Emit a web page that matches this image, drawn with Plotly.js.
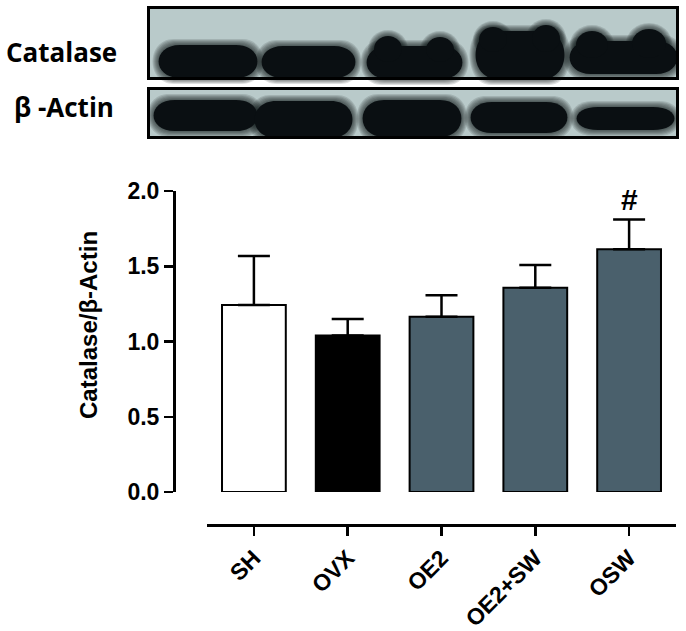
<!DOCTYPE html>
<html>
<head>
<meta charset="utf-8">
<script src="https://cdn.plot.ly/plotly-3.0.1.min.js"></script>
<style>html,body{margin:0;padding:0;background:#fff;}#chart{width:686px;height:631px;}</style>
</head>
<body>
<div id="chart"></div>
<script>
// ---- data ----
const categories = ['SH', 'OVX', 'OE2', 'OE2+SW', 'OSW'];
const means = [1.243, 1.040, 1.165, 1.357, 1.613];
const sem = [0.325, 0.110, 0.142, 0.151, 0.197];
const barColors = ['#ffffff', '#000000', '#4a606c', '#4a606c', '#4a606c'];
const sigMarks = ['', '', '', '', '#'];
const yTicks = [0, 0.5, 1.0, 1.5, 2.0];
const blotLabels = ['Catalase', 'β -Actin'];

// ---- geometry helpers (figure pixels -> paper) ----
const W = 686, H = 631, L = 140, R = 6, T = 5, B = 106;
const PW = W - L - R, PH = H - T - B;
const px = v => (v - L) / PW;
const py = v => (H - B - v) / PH;

// Blot drawing (decorative reproduction of the western blot image), in blot-axis pixel units
const blotBoxes = [[147, 679, 6, 80], [147, 679, 87, 139]];
const capsules = [
  [158, 258, 45, 78], [261, 356, 46, 78], [366, 463, 46, 79], [475, 565, 31, 79], [569, 678, 41, 74],
  [153, 258, 100, 131], [254, 353, 101, 138], [362, 462, 100, 137], [470, 568, 102, 133], [576, 675, 107, 130]
];
const humps = [
  [374, 402, 36, 62], [426, 454, 37, 62],
  [479, 507, 27, 52], [532, 560, 25, 52],
  [576, 608, 31, 58], [632, 666, 29, 58]
];

function capsulePath(x0, x1, y0, y1) {
  const rx = Math.min(22, (x1 - x0) / 4);
  return `M ${x0 + rx},${y0} L ${x1 - rx},${y0} C ${x1 + rx * 0.3},${y0} ${x1 + rx * 0.3},${y1} ${x1 - rx},${y1} ` +
         `L ${x0 + rx},${y1} C ${x0 - rx * 0.3},${y1} ${x0 - rx * 0.3},${y0} ${x0 + rx},${y0} Z`;
}

const shapes = [];
blotBoxes.forEach(b => shapes.push({type: 'rect', xref: 'x2', yref: 'y2', x0: b[0], x1: b[1], y0: b[2], y1: b[3],
  fillcolor: '#b9caca', line: {width: 0}, layer: 'below'}));
// soft halo layers then solid cores
[6, 5, 4, 3, 2, 1, 0].forEach(g => {
  const op = g === 0 ? 1 : 0.13;
  capsules.forEach(c => shapes.push({type: 'path', xref: 'x2', yref: 'y2',
    path: capsulePath(c[0] - g, c[1] + g, c[2] - g, c[3] + g), fillcolor: `rgba(10,15,18,${op})`, line: {width: 0}}));
  humps.forEach(h => shapes.push({type: 'circle', xref: 'x2', yref: 'y2', x0: h[0] - g, x1: h[1] + g, y0: h[2] - g, y1: h[3] + g,
    fillcolor: `rgba(10,15,18,${op})`, line: {width: 0}}));
});
blotBoxes.forEach(b => shapes.push({type: 'rect', xref: 'x2', yref: 'y2', x0: b[0] + 1.5, x1: b[1] - 1.5, y0: b[2] + 1.5, y1: b[3] - 1.5,
  fillcolor: 'rgba(0,0,0,0)', line: {width: 3, color: '#000'}}));

const FONT = 'Arial';
const LABELFONT = '"Open Sans"';

const traces = [
  {
    type: 'bar', x: categories, y: means, width: 0.68,
    marker: {color: barColors, line: {color: '#000', width: 2}},
    error_y: {type: 'data', symmetric: false, array: sem, arrayminus: sem.map(() => 0),
      color: '#000', thickness: 2.5, width: 16},
    xaxis: 'x', yaxis: 'y', hoverinfo: 'x+y', showlegend: false
  },
  {type: 'scatter', x: [400], y: [70], xaxis: 'x2', yaxis: 'y2', mode: 'markers',
    marker: {opacity: 0}, hoverinfo: 'skip', showlegend: false}
];

const annotations = [];
categories.forEach((c, i) => {
  if (sigMarks[i]) annotations.push({xref: 'x', yref: 'y', x: c, y: means[i] + sem[i], text: '<b>' + sigMarks[i] + '</b>',
    showarrow: false, yanchor: 'bottom', yshift: 2, font: {family: FONT, size: 30, color: '#000'}});
});
annotations.push({xref: 'paper', yref: 'paper', x: px(88), y: py(325), text: '<b>Catalase/β-Actin</b>', textangle: -90,
  showarrow: false, xanchor: 'center', yanchor: 'middle', font: {family: FONT, size: 24, color: '#000'}});
annotations.push({xref: 'paper', yref: 'paper', x: px(61), y: py(52), text: '<b>' + blotLabels[0] + '</b>',
  showarrow: false, xanchor: 'center', yanchor: 'middle', font: {family: LABELFONT, size: 26, color: '#000'}});
annotations.push({xref: 'paper', yref: 'paper', x: px(64), y: py(107), text: '<b>' + blotLabels[1] + '</b>',
  showarrow: false, xanchor: 'center', yanchor: 'middle', font: {family: LABELFONT, size: 26, color: '#000'}});

const layout = {
  width: W, height: H,
  margin: {l: L, r: R, t: T, b: B},
  paper_bgcolor: '#fff', plot_bgcolor: 'rgba(0,0,0,0)',
  showlegend: false,
  font: {family: FONT, color: '#000'},
  xaxis: {
    domain: [px(207), px(676)], anchor: 'free', position: 0,
    range: [-0.5, 4.5], type: 'category',
    showline: true, linecolor: '#000', linewidth: 2.5,
    ticks: 'outside', ticklen: 9, tickwidth: 2.5, tickcolor: '#000',
    tickangle: -45, tickfont: {family: FONT, size: 23, color: '#000', weight: 700},
    showgrid: false, zeroline: false
  },
  yaxis: {
    domain: [py(492), py(191)], anchor: 'free', position: px(174),
    range: [0, 2], tickvals: yTicks, tickformat: '.1f',
    showline: true, linecolor: '#000', linewidth: 2.5,
    ticks: 'outside', ticklen: 9, tickwidth: 2.5, tickcolor: '#000',
    tickfont: {family: FONT, size: 23, color: '#000', weight: 700},
    showgrid: false, zeroline: false
  },
  xaxis2: {domain: [px(147), px(679)], range: [147, 679], anchor: 'y2', visible: false, fixedrange: true},
  yaxis2: {domain: [py(139), py(6)], range: [139, 6], anchor: 'x2', visible: false, fixedrange: true},
  shapes: shapes,
  annotations: annotations
};

Plotly.newPlot('chart', traces, layout, {displayModeBar: false, staticPlot: true});
</script>
</body>
</html>
